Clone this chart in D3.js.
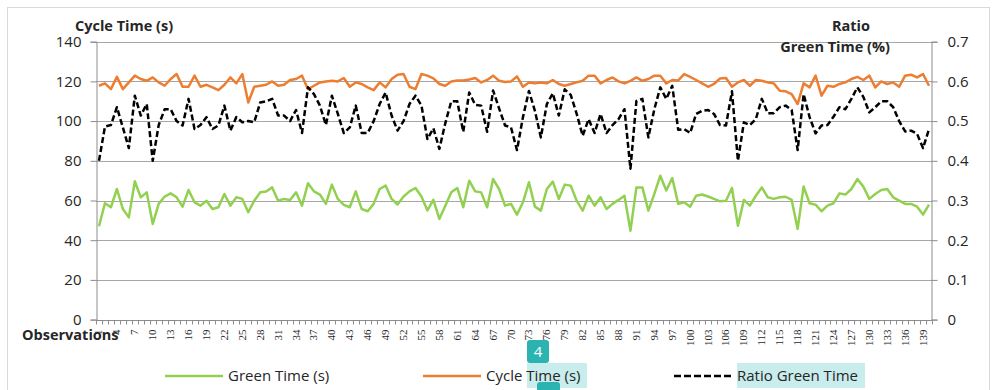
<!DOCTYPE html>
<html>
<head>
<meta charset="utf-8">
<script src="https://cdn.jsdelivr.net/npm/d3@7"></script>
<style>
  html, body { margin: 0; padding: 0; background: #fff; }
  svg { display: block; }
  text { font-family: "Open Sans", Lato, sans-serif; fill: #262626; }
</style>
</head>
<body>
<svg id="chart" width="997" height="390"></svg>
<script>
// Observation numbers 1..140
const observations = d3.range(1, 141);

// Green time per observation (s)
const greenTime = [
  47, 58.6, 56.6, 65.8, 55.7, 51.5, 69.7, 61.6, 64.1, 48.2,
  58.3, 62, 63.6, 61.6, 56.9, 65.3, 59.1, 57.4, 59.9, 55.7,
  56.6, 63.3, 57.4, 61.6, 60.8, 54.1, 59.9, 64.1, 64.5, 66.6,
  59.9, 60.8, 60.3, 64.1, 57.4, 68.7, 64.6, 63, 58.3, 68,
  60.8, 57.8, 56.6, 64.6, 55.7, 54.6, 58.3, 65.8, 67.5, 60.8,
  58, 62, 64.6, 66.3, 62, 55, 60.3, 50.7, 57.4, 64.1,
  66.3, 56.6, 70, 64.6, 64.1, 56.6, 70.8, 65.8, 57.4, 58.3,
  52.9, 59.1, 69.2, 56.9, 54.9, 65.8, 69.5, 60.8, 68, 67.5,
  59.9, 54.9, 62.4, 57.4, 61.6, 55.7, 58.3, 60.3, 62.4, 44.8,
  66.6, 66.6, 54.9, 63.3, 72.5, 65, 71.3, 58.3, 59.1, 56.9,
  62.4, 63, 62, 60.8, 59.6, 59.9, 66.3, 47.3, 60.3, 57.4,
  62.4, 66.6, 61.6, 60.8, 61.6, 61.9, 60.3, 45.7, 67, 58.6,
  57.9, 54.6, 57.4, 58.6, 63.6, 63, 65.8, 70.8, 67, 60.8,
  63.3, 65.3, 65.8, 61.6, 59.9, 58.3, 58.3, 56.9, 52.9, 57.9
];

// Cycle time per observation (s)
const cycleTime = [
  117.8, 119, 116.1, 122.3, 116.1, 119.5, 122.9, 121.2, 120.3, 122,
  119.5, 117.8, 121.2, 123.7, 117.3, 117.3, 122.9, 117.3, 118.3, 117,
  115.6, 118.3, 122, 119, 123.7, 109.4, 117.3, 117.8, 118.3, 120,
  117.8, 118.3, 120.7, 121.2, 122.9, 116.1, 117.8, 119.5, 120, 120.3,
  120, 121.7, 117.3, 119.5, 118.7, 117, 115.6, 119.5, 117, 121.2,
  123.4, 123.7, 117.3, 116.1, 123.7, 122.9, 121.5, 118.7, 117.8, 120,
  120.5, 120.5, 121, 121.7, 119.5, 120.7, 122.9, 120.3, 119.7, 120,
  122.5, 117.3, 119.5, 119, 119.5, 119, 120.7, 118.7, 117.8, 118.7,
  119.5, 120.3, 122.9, 122.9, 119, 120.7, 122, 120, 119, 120.3,
  122, 120.3, 121.2, 122.9, 122.9, 119, 120.7, 120.5, 123.7, 122.3,
  120.7, 119, 117.3, 118.7, 121.5, 121.7, 117.3, 119.5, 120.7, 117.8,
  120.7, 120.3, 119.5, 119, 115.3, 115, 113.6, 108.6, 119, 117,
  122.9, 112.8, 117.8, 117.3, 118.7, 119.5, 121.2, 122.3, 120.7, 122.9,
  117, 120, 118.7, 119.5, 117.3, 122.9, 123.4, 122, 123.7, 117.8
];

// Ratio of green time to cycle time
const ratioGreen = [
  0.40, 0.486, 0.49, 0.535, 0.484, 0.432, 0.564, 0.514, 0.543, 0.40,
  0.49, 0.53, 0.53, 0.50, 0.489, 0.556, 0.48, 0.49, 0.51, 0.48,
  0.489, 0.539, 0.476, 0.51, 0.497, 0.50, 0.497, 0.547, 0.55, 0.556,
  0.514, 0.514, 0.50, 0.528, 0.47, 0.585, 0.568, 0.539, 0.49, 0.564,
  0.518, 0.47, 0.484, 0.539, 0.47, 0.47, 0.50, 0.543, 0.572, 0.514,
  0.476, 0.50, 0.543, 0.564, 0.539, 0.455, 0.482, 0.43, 0.495, 0.55,
  0.55, 0.473, 0.572, 0.541, 0.539, 0.473, 0.577, 0.532, 0.489, 0.484,
  0.427, 0.51, 0.576, 0.526, 0.459, 0.543, 0.57, 0.514, 0.58, 0.566,
  0.518, 0.463, 0.505, 0.47, 0.518, 0.47, 0.49, 0.505, 0.53, 0.38,
  0.551, 0.556, 0.459, 0.53, 0.585, 0.556, 0.589, 0.478, 0.48, 0.47,
  0.518, 0.526, 0.528, 0.518, 0.49, 0.489, 0.575, 0.40, 0.497, 0.49,
  0.505, 0.556, 0.52, 0.52, 0.535, 0.539, 0.528, 0.427, 0.568, 0.51,
  0.469, 0.489, 0.49, 0.511, 0.535, 0.53, 0.556, 0.585, 0.561, 0.522,
  0.535, 0.55, 0.55, 0.535, 0.50, 0.474, 0.476, 0.468, 0.432, 0.48
];

const leftTicks = [0, 20, 40, 60, 80, 100, 120, 140];
const rightTicks = [0, 0.1, 0.2, 0.3, 0.4, 0.5, 0.6, 0.7];
const seriesNames = ["Green Time (s)", "Cycle Time (s)", "Ratio Green Time"];
const colors = { green: "#92d050", orange: "#ed7d31", ratio: "#000000", grid: "#a6a6a6", axis: "#8c8c8c" };

const svg = d3.select("#chart");

// Outer chart frame
svg.append("rect")
  .attr("x", 7.5).attr("y", 7.5)
  .attr("width", 982).attr("height", 400)
  .attr("fill", "#fff").attr("stroke", "#d9d9d9");

const plot = { left: 96, right: 932, top: 41.7, bottom: 319.6 };

const x = d3.scaleBand().domain(observations).range([plot.left, plot.right]).padding(0);
const yL = d3.scaleLinear().domain([0, 140]).range([plot.bottom, plot.top]);
const yR = d3.scaleLinear().domain([0, 0.7]).range([plot.bottom, plot.top]);
const cx = d => x(d) + x.bandwidth() / 2;

// Horizontal gridlines
svg.append("g").selectAll("line").data(leftTicks.filter(t => t > 0)).join("line")
  .attr("x1", plot.left).attr("x2", plot.right)
  .attr("y1", d => Math.round(yL(d)) + 0.5).attr("y2", d => Math.round(yL(d)) + 0.5)
  .attr("stroke", colors.grid).attr("stroke-width", 1);

// Left axis
const leftAxis = svg.append("g")
  .attr("transform", `translate(${plot.left + 0.5},0)`)
  .call(d3.axisLeft(yL).tickValues(leftTicks).tickSize(6).tickPadding(9).tickFormat(d3.format("d")));
leftAxis.select(".domain").attr("stroke", colors.axis);
leftAxis.selectAll(".tick line").attr("stroke", colors.axis);
leftAxis.selectAll("text").style("font-size", "15px").style("font-family", "'Open Sans', sans-serif").attr("fill", "#262626");

// Right axis
const rightAxis = svg.append("g")
  .attr("transform", `translate(${plot.right - 0.5},0)`)
  .call(d3.axisRight(yR).tickValues(rightTicks).tickSize(6).tickPadding(10)
    .tickFormat(d => d === 0 ? "0" : d3.format(".1f")(d)));
rightAxis.select(".domain").attr("stroke", colors.axis);
rightAxis.selectAll(".tick line").attr("stroke", colors.axis);
rightAxis.selectAll("text").style("font-size", "15px").style("font-family", "'Open Sans', sans-serif").attr("fill", "#262626");

// Category axis along the bottom
const xAxis = svg.append("g")
  .attr("transform", `translate(0,${Math.round(plot.bottom) + 0.5})`);
xAxis.append("line")
  .attr("x1", plot.left).attr("x2", plot.right)
  .attr("stroke", colors.axis);
const boundaries = observations.map(d => x(d)).concat([plot.right]);
xAxis.selectAll("line.tk").data(boundaries).join("line").attr("class", "tk")
  .attr("x1", d => Math.round(d) + 0.5).attr("x2", d => Math.round(d) + 0.5)
  .attr("y1", 0).attr("y2", 4).attr("stroke", colors.axis);
xAxis.selectAll("text").data(observations.filter(d => (d - 1) % 3 === 0)).join("text")
  .attr("transform", d => `translate(${cx(d) + 3.5},9) rotate(-90)`)
  .attr("text-anchor", "end")
  .style("font-family", "'Liberation Serif', serif")
  .style("font-size", "11px")
  .attr("fill", "#262626")
  .text(d => d);

// Series lines
const lineL = d3.line().x((d, i) => cx(observations[i])).y(d => yL(d));
const lineR = d3.line().x((d, i) => cx(observations[i])).y(d => yR(d));

svg.append("path").datum(greenTime)
  .attr("d", lineL).attr("fill", "none")
  .attr("stroke", colors.green).attr("stroke-width", 2.5).attr("stroke-linejoin", "round");
svg.append("path").datum(cycleTime)
  .attr("d", lineL).attr("fill", "none")
  .attr("stroke", colors.orange).attr("stroke-width", 2.5).attr("stroke-linejoin", "round");
svg.append("path").datum(ratioGreen)
  .attr("d", lineR).attr("fill", "none")
  .attr("stroke", colors.ratio).attr("stroke-width", 2.5)
  .attr("stroke-dasharray", "6,3").attr("stroke-linejoin", "round");

// Axis titles
svg.append("text").attr("x", 75).attr("y", 31)
  .style("font-size", "14.5px").style("font-weight", "bold").text("Cycle Time (s)");
svg.append("text").attr("x", 870).attr("y", 31).attr("text-anchor", "end")
  .style("font-size", "14.5px").style("font-weight", "bold").text("Ratio");
svg.append("text").attr("x", 890).attr("y", 52).attr("text-anchor", "end")
  .style("font-size", "14.5px").style("font-weight", "bold").text("Green Time (%)");
svg.append("text").attr("x", 22).attr("y", 340)
  .style("font-size", "14.5px").style("font-weight", "bold").text("Observations");

// Legend
const legend = [
  { name: seriesNames[0], color: colors.green, x: 165, dash: null },
  { name: seriesNames[1], color: colors.orange, x: 423, dash: null },
  { name: seriesNames[2], color: colors.ratio, x: 674, dash: "7,3" }
];

// Highlight marks over the legend
svg.append("rect").attr("x", 527).attr("y", 363).attr("width", 60).attr("height", 25).attr("fill", "#c9ecec");
svg.append("rect").attr("x", 737).attr("y", 363).attr("width", 128).attr("height", 25).attr("fill", "#c9ecec");

const lg = svg.append("g");
legend.forEach(l => {
  lg.append("line").attr("x1", l.x).attr("x2", l.x + 58)
    .attr("y1", 376).attr("y2", 376)
    .attr("stroke", l.color).attr("stroke-width", 2.5)
    .attr("stroke-dasharray", l.dash);
  lg.append("text").attr("x", l.x + 63).attr("y", 381)
    .style("font-size", "15px").text(l.name);
});

// Numbered badge
svg.append("rect").attr("x", 527).attr("y", 340).attr("width", 22).attr("height", 23).attr("rx", 3).attr("fill", "#2bb3b1");
svg.append("text").attr("x", 538).attr("y", 357).attr("text-anchor", "middle")
  .style("font-size", "15px").style("fill", "#fff").text("4");
svg.append("rect").attr("x", 537).attr("y", 382).attr("width", 23).attr("height", 20).attr("rx", 3).attr("fill", "#2bb3b1");
</script>
</body>
</html>
